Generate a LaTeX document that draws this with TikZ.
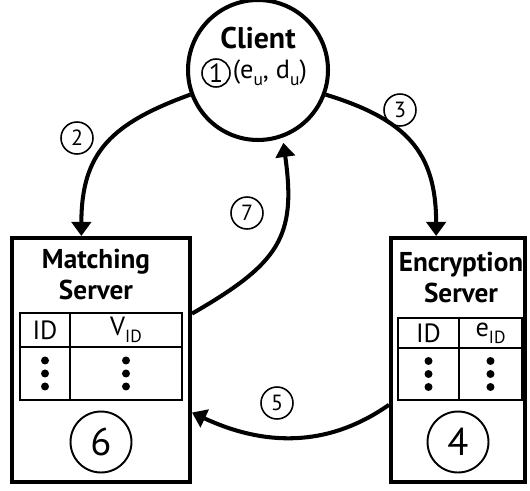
\documentclass[tikz,border=0pt]{standalone}
\usepackage{fontspec}
\setmainfont{PT Sans}
\usetikzlibrary{positioning,arrows.meta,calc}

\newcommand{\lowidx}[1]{\raisebox{-0.55ex}{\fontsize{10}{10}\selectfont #1}}

\begin{document}
\begin{tikzpicture}[
  x=0.02cm, y=-0.02cm,
  font=\fontsize{15}{18}\selectfont,
  party/.style={draw, line width=2.3pt, inner sep=0pt},
  server/.style={party, rectangle, minimum height=4.88cm},
  title/.style={font=\fontsize{15.5}{18}\selectfont\bfseries, inner sep=0pt},
  cell/.style={draw, line width=1.1pt, outer sep=0pt, inner sep=0pt},
  stage/.style={draw, circle, line width=0.9pt, minimum size=0.64cm, inner sep=0pt,
                font=\fontsize{12.5}{12.5}\selectfont},
  bigstage/.style={draw, circle, line width=1.1pt, minimum size=1.22cm, inner sep=0pt,
                   font=\fontsize{22}{22}\selectfont},
  arr/.style={-{Triangle[length=8pt, width=11pt]}, line width=2.3pt}
]
\useasboundingbox (0,0) rectangle (530,490);
% Client
\node[party, circle, minimum size=2.8cm] (client) at (258,70) {};
\node[title, font=\fontsize{17}{20}\selectfont\bfseries] (clientT) at (258,38) {Client};
\node[stage, minimum size=0.56cm, font=\fontsize{15}{15}\selectfont] (s1) at (216,73) {1};
\node[right=1pt of s1, inner sep=0pt] (keys) {(e\lowidx{u}, d\lowidx{u})};
% Matching server
\node[server, minimum width=3.56cm] (match) at (101,360) {};
\node[title] (matchT) at (96,262) {Matching};
\node[title] (matchS) at (96,290) {Server};
\node[cell, minimum width=1cm, minimum height=0.68cm] (mIDh) at (45,330) {ID};
\node[cell, minimum width=2.24cm, minimum height=0.68cm, right=0pt of mIDh] (mVh) {V\lowidx{ID}};
\node[cell, minimum width=1cm, minimum height=1.06cm, below=0pt of mIDh] (mIDb) {};
\node[cell, minimum width=2.24cm, minimum height=1.06cm, below=0pt of mVh] (mVb) {};
\node[bigstage] (s6) at (101,442) {6};
% Encryption server
\node[server, minimum width=2.68cm] (encr) at (458,360) {};
\node[title] (encrT) at (461,265) {Encryption};
\node[title] (encrS) at (461,293) {Server};
\node[cell, minimum width=1.22cm, minimum height=0.6cm] (eIDh) at (428.5,333) {ID};
\node[cell, minimum width=1.26cm, minimum height=0.6cm, right=0pt of eIDh] (eKh) {e\lowidx{ID}};
\node[cell, minimum width=1.22cm, minimum height=1.04cm, below=0pt of eIDh] (eIDb) {};
\node[cell, minimum width=1.26cm, minimum height=1.04cm, below=0pt of eKh] (eKb) {};
\node[bigstage] (s4) at (458,442) {4};
% table rows left out
\foreach \c in {mIDb,mVb,eIDb,eKb}
  \foreach \d in {-13,0,13}
    \fill ($(\c.center)+(0,\d)$) circle (4);
% steps
\node[stage] (s2) at (77,138) {2};
\node[stage] (s3) at (400,110) {3};
\node[stage] (s7) at (247,213) {7};
\node[stage] (s5) at (277,403) {5};
\draw[arr] (client.200) to[out=200, in=90, looseness=1.2] (match.99);
\draw[arr] (client.340) to[out=-17, in=90, looseness=1.2] (encr.100);
\draw[arr, shorten >=3pt] (match.27) to[out=30, in=-82, looseness=1.3] (client.290);
\draw[arr] (encr.213) to[out=215, in=-25] (match.330);
\end{tikzpicture}
\end{document}
